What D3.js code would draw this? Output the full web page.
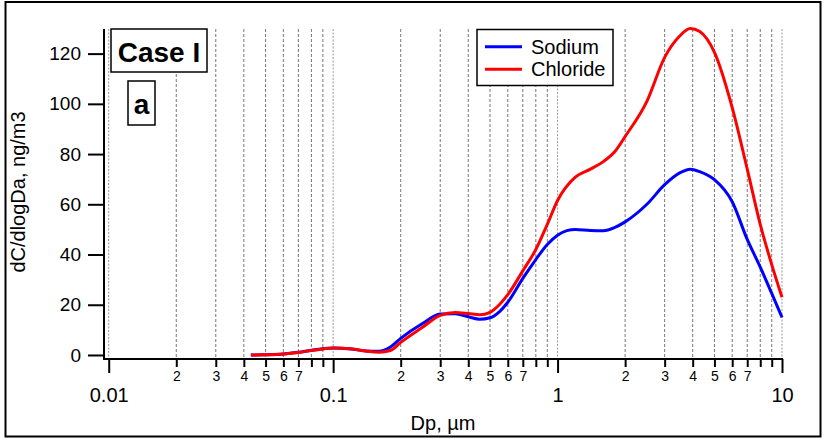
<!DOCTYPE html>
<html>
<head>
<meta charset="utf-8">
<script src="https://cdn.jsdelivr.net/npm/d3@7/dist/d3.min.js"></script>
<style>
  html, body { margin: 0; padding: 0; background: #fff; }
  svg { display: block; font-family: "Liberation Sans", Arial, Helvetica, sans-serif; }
</style>
</head>
<body>
<svg id="chart" width="825" height="439"></svg>
<script>
// ---- data ----
const sodiumDp = [0.043,0.05,0.06,0.07,0.08,0.09,0.1,0.12,0.14,0.16,0.18,0.2,0.25,0.3,0.35,0.4,0.45,0.5,0.55,0.6,0.7,0.8,0.9,1.0,1.1,1.2,1.4,1.6,1.8,2.0,2.5,3.0,3.5,3.9,4.3,5.0,6.0,7.0,8.0,9.0,10];
const sodiumVal = [0.0,0.1,0.4,1.1,1.9,2.5,2.8,2.4,1.6,1.5,3.2,6.6,12.5,16.3,16.4,15.2,14.2,14.8,17.2,21,30.5,38,44,47.7,49.5,50,49.6,49.5,50.8,53,60,67.8,72.5,74,73,69.8,61,46,35,24.5,15];
const chlorideDp = [0.043,0.05,0.06,0.07,0.08,0.09,0.1,0.12,0.14,0.16,0.18,0.2,0.25,0.3,0.35,0.4,0.45,0.5,0.55,0.6,0.7,0.8,0.9,1.0,1.2,1.4,1.6,1.8,2.0,2.5,3.0,3.5,3.9,4.3,5.0,6.0,7.0,8.0,9.0,10];
const chlorideVal = [0.0,0.1,0.4,1.0,1.8,2.4,2.8,2.5,1.6,1.1,1.8,5.0,11,15.8,16.9,16.5,16.0,17.0,20,24,33.5,42,52,61.5,70.8,74,77,81,87,101,118.5,127,130,128.8,120.5,98.5,74,52,36,23];
const seriesNames = ["Sodium", "Chloride"];
const seriesColors = ["#0000ff", "#ff0000"];
const yTicks = [0, 20, 40, 60, 80, 100, 120];
const xMajorTicks = [0.01, 0.1, 1, 10];
const xMajorLabels = ["0.01", "0.1", "1", "10"];
const xMinorMult = [2, 3, 4, 5, 6, 7, 8, 9];
const xMinorLabelled = [2, 3, 4, 5, 6, 7];
const xTitle = "Dp, µm";
const yTitle = "dC/dlogDa, ng/m3";
const caseLabel = "Case I";
const panelLabel = "a";

// ---- layout ----
const svg = d3.select("#chart");
const font = '"Liberation Sans", Arial, Helvetica, sans-serif';
const x = d3.scaleLog().domain([Math.pow(10, -2.021), 10]).range([104, 782]);
const y = d3.scaleLinear().domain([-1.6, 129.8]).range([359, 29]);

// outer frame
svg.append("rect").attr("x", 5.5).attr("y", 2).attr("width", 815).attr("height", 434.5)
  .attr("fill", "none").attr("stroke", "#000").attr("stroke-width", 2);

// minor tick values
const minorVals = [];
[0.01, 0.1, 1].forEach(d => xMinorMult.forEach(m => minorVals.push({v: d * m, m: m})));

// gridlines
const grid = svg.append("g");
grid.selectAll("line.minor").data(minorVals).enter().append("line")
  .attr("x1", d => x(d.v)).attr("x2", d => x(d.v))
  .attr("y1", 29).attr("y2", 358)
  .attr("stroke", "#777").attr("stroke-width", 1).attr("stroke-dasharray", "3,2");
grid.selectAll("line.major").data(xMajorTicks).enter().append("line")
  .attr("x1", d => x(d)).attr("x2", d => x(d))
  .attr("y1", 29).attr("y2", 358)
  .attr("stroke", "#999").attr("stroke-width", 1).attr("stroke-dasharray", "2,1.5");

// curves
const line = d3.line().x(d => x(d[0])).y(d => y(d[1])).curve(d3.curveMonotoneX);
const sodium = sodiumDp.map((d, i) => [d, sodiumVal[i]]);
const chloride = chlorideDp.map((d, i) => [d, chlorideVal[i]]);
[sodium, chloride].forEach((s, i) => {
  svg.append("path").datum(s).attr("d", line).attr("fill", "none")
    .attr("stroke", seriesColors[i]).attr("stroke-width", 3)
    .attr("stroke-linejoin", "round");
});

// y axis
const yAxis = d3.axisLeft(y).tickValues(yTicks).tickSize(16).tickPadding(7).tickSizeOuter(0);
const gy = svg.append("g").attr("transform", "translate(104,0)").call(yAxis);
gy.select(".domain").remove();
gy.append("line").attr("x1", 0).attr("x2", 0).attr("y1", 29).attr("y2", 360).attr("stroke", "#000").attr("stroke-width", 2);
gy.selectAll(".tick line").attr("stroke", "#000").attr("stroke-width", 2);
gy.selectAll(".tick text").attr("font-family", font).attr("font-size", 19).attr("fill", "#000");

// x axis major
const gx = svg.append("g").attr("transform", "translate(0,359)");
gx.append("line").attr("x1", 103).attr("x2", 783).attr("y1", 0).attr("y2", 0).attr("stroke", "#000").attr("stroke-width", 2);
const xAxisMajor = d3.axisBottom(x).tickValues(xMajorTicks).tickFormat((d, i) => xMajorLabels[i]).tickSize(14).tickPadding(15).tickSizeOuter(0);
const gxm = svg.append("g").attr("transform", "translate(0,359)").call(xAxisMajor);
gxm.select(".domain").remove();
gxm.selectAll(".tick line").attr("stroke", "#000").attr("stroke-width", 2);
gxm.selectAll(".tick text").attr("font-family", font).attr("font-size", 20).attr("fill", "#000");

const xAxisMinor = d3.axisBottom(x).tickValues(minorVals.map(d => d.v))
  .tickFormat(d => { const m = Math.round(d / Math.pow(10, Math.floor(Math.log10(d) + 1e-9))); return xMinorLabelled.includes(m) ? String(m) : ""; })
  .tickSize(8).tickPadding(4).tickSizeOuter(0);
const gxn = svg.append("g").attr("transform", "translate(0,359)").call(xAxisMinor);
gxn.select(".domain").remove();
gxn.selectAll(".tick line").attr("stroke", "#000").attr("stroke-width", 2);
gxn.selectAll(".tick text").attr("font-family", font).attr("font-size", 14).attr("fill", "#000");

// axis titles
svg.append("text").attr("x", 443).attr("y", 430).attr("text-anchor", "middle")
  .attr("font-family", font).attr("font-size", 20).text(xTitle);
svg.append("text").attr("transform", "translate(25,192) rotate(-90)").attr("text-anchor", "middle")
  .attr("font-family", font).attr("font-size", 20).text(yTitle);

// Case I box
svg.append("rect").attr("x", 111).attr("y", 29).attr("width", 96).attr("height", 43)
  .attr("fill", "#fff").attr("stroke", "#000").attr("stroke-width", 1.5);
svg.append("text").attr("x", 159).attr("y", 61.5).attr("text-anchor", "middle")
  .attr("font-family", font).attr("font-weight", "bold").attr("font-size", 28).text(caseLabel);
svg.append("rect").attr("x", 128).attr("y", 81).attr("width", 27).attr("height", 44)
  .attr("fill", "#fff").attr("stroke", "#000").attr("stroke-width", 1.5);
svg.append("text").attr("x", 141.5).attr("y", 113.5).attr("text-anchor", "middle")
  .attr("font-family", font).attr("font-weight", "bold").attr("font-size", 28).text(panelLabel);

// legend
const lg = svg.append("g");
lg.append("rect").attr("x", 477).attr("y", 29.5).attr("width", 136).attr("height", 56)
  .attr("fill", "#fff").attr("stroke", "#000").attr("stroke-width", 1.5);
seriesNames.forEach((n, i) => {
  const yy = 46.7 + i * 22.6;
  lg.append("line").attr("x1", 485).attr("x2", 522).attr("y1", yy).attr("y2", yy)
    .attr("stroke", seriesColors[i]).attr("stroke-width", 3);
  lg.append("text").attr("x", 531).attr("y", yy + 7).attr("font-family", font)
    .attr("font-size", 20).text(n);
});
</script>
</body>
</html>
